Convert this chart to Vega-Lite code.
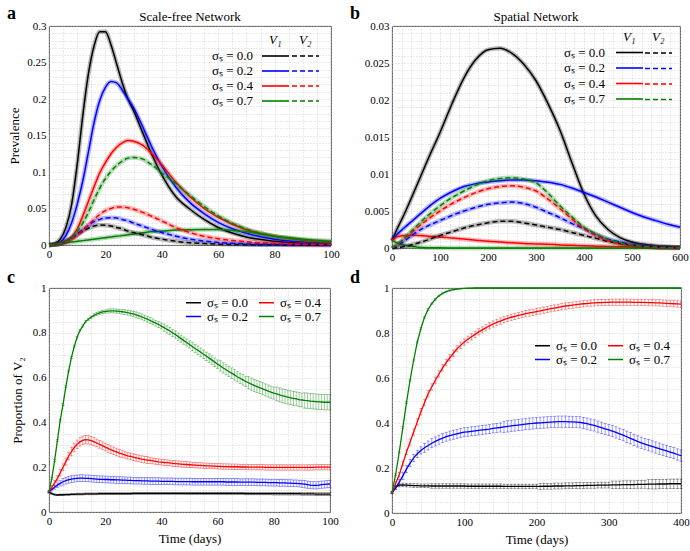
{
"$schema":"https://vega.github.io/schema/vega-lite/v6.json",
"padding":{"left":6,"top":4,"right":0,"bottom":2},
"config":{
 "font":"Liberation Serif",
 "view":{"stroke":"#3a3a3a","strokeWidth":0.9},
 "axis":{"grid":true,"gridColor":"#c4c4c4","gridDash":[1,2],"gridWidth":0.7,"domain":false,"ticks":false,"labelPadding":3,"labelFont":"Liberation Serif","labelFontSize":11,"labelColor":"#000","labelOverlap":false,"labelFlush":false,"titleFont":"Liberation Serif","titleFontSize":13,"titleFontWeight":"normal","titleColor":"#000"},
 "legend":{"labelFont":"Liberation Serif","labelFontSize":13,"labelColor":"#000","titleFont":"Liberation Serif","titleFontSize":13,"titleFontWeight":"normal","titleColor":"#000","padding":0},
 "title":{"font":"Liberation Serif","fontSize":18,"fontWeight":"bold","anchor":"start","frame":"group","dx":-42,"color":"#000"}
},
"datasets":{
"A":[
{"t":0,"s":"0.0","a":0,"b":0},{"t":2,"s":"0.0","a":0.002,"b":0.0005},{"t":4,"s":"0.0","a":0.008,"b":0.002},{"t":6,"s":"0.0","a":0.024,"b":0.005},{"t":8,"s":"0.0","a":0.055,"b":0.009},{"t":10,"s":"0.0","a":0.11,"b":0.014},{"t":12,"s":"0.0","a":0.178,"b":0.019},{"t":14,"s":"0.0","a":0.235,"b":0.023},{"t":16,"s":"0.0","a":0.273,"b":0.026},{"t":18,"s":"0.0","a":0.292,"b":0.0275},{"t":20,"s":"0.0","a":0.292,"b":0.0272},{"t":22,"s":"0.0","a":0.274,"b":0.026},{"t":24,"s":"0.0","a":0.248,"b":0.024},{"t":26,"s":"0.0","a":0.222,"b":0.022},{"t":28,"s":"0.0","a":0.2,"b":0.019},{"t":30,"s":"0.0","a":0.184,"b":0.017},{"t":33,"s":"0.0","a":0.156,"b":0.014},{"t":36,"s":"0.0","a":0.128,"b":0.011},{"t":40,"s":"0.0","a":0.096,"b":0.008},{"t":45,"s":"0.0","a":0.066,"b":0.005},{"t":50,"s":"0.0","a":0.049,"b":0.003},{"t":55,"s":"0.0","a":0.035,"b":0.002},{"t":60,"s":"0.0","a":0.024,"b":0.0012},{"t":70,"s":"0.0","a":0.011,"b":0.0005},{"t":80,"s":"0.0","a":0.005,"b":0.0002},{"t":90,"s":"0.0","a":0.0022,"b":0.0001},{"t":100,"s":"0.0","a":0.001,"b":0},
{"t":0,"s":"0.2","a":0,"b":0},{"t":2,"s":"0.2","a":0.001,"b":0.0005},{"t":4,"s":"0.2","a":0.004,"b":0.002},{"t":6,"s":"0.2","a":0.013,"b":0.005},{"t":8,"s":"0.2","a":0.03,"b":0.009},{"t":10,"s":"0.2","a":0.056,"b":0.015},{"t":12,"s":"0.2","a":0.088,"b":0.021},{"t":14,"s":"0.2","a":0.128,"b":0.027},{"t":16,"s":"0.2","a":0.168,"b":0.032},{"t":18,"s":"0.2","a":0.198,"b":0.035},{"t":20,"s":"0.2","a":0.216,"b":0.037},{"t":22,"s":"0.2","a":0.224,"b":0.0375},{"t":24,"s":"0.2","a":0.222,"b":0.037},{"t":26,"s":"0.2","a":0.212,"b":0.035},{"t":28,"s":"0.2","a":0.2,"b":0.033},{"t":30,"s":"0.2","a":0.188,"b":0.03},{"t":33,"s":"0.2","a":0.164,"b":0.026},{"t":36,"s":"0.2","a":0.138,"b":0.022},{"t":40,"s":"0.2","a":0.108,"b":0.017},{"t":45,"s":"0.2","a":0.079,"b":0.012},{"t":50,"s":"0.2","a":0.058,"b":0.008},{"t":55,"s":"0.2","a":0.043,"b":0.0055},{"t":60,"s":"0.2","a":0.031,"b":0.0035},{"t":70,"s":"0.2","a":0.016,"b":0.0015},{"t":80,"s":"0.2","a":0.008,"b":0.0006},{"t":90,"s":"0.2","a":0.004,"b":0.0003},{"t":100,"s":"0.2","a":0.002,"b":0.0001},
{"t":0,"s":"0.4","a":0,"b":0},{"t":2,"s":"0.4","a":0.0005,"b":0.0005},{"t":4,"s":"0.4","a":0.002,"b":0.002},{"t":6,"s":"0.4","a":0.005,"b":0.004},{"t":8,"s":"0.4","a":0.011,"b":0.008},{"t":10,"s":"0.4","a":0.022,"b":0.013},{"t":12,"s":"0.4","a":0.04,"b":0.02},{"t":14,"s":"0.4","a":0.06,"b":0.028},{"t":16,"s":"0.4","a":0.08,"b":0.035},{"t":18,"s":"0.4","a":0.099,"b":0.042},{"t":20,"s":"0.4","a":0.113,"b":0.047},{"t":22,"s":"0.4","a":0.125,"b":0.05},{"t":24,"s":"0.4","a":0.134,"b":0.052},{"t":26,"s":"0.4","a":0.14,"b":0.0522},{"t":28,"s":"0.4","a":0.143,"b":0.051},{"t":30,"s":"0.4","a":0.142,"b":0.049},{"t":33,"s":"0.4","a":0.137,"b":0.045},{"t":36,"s":"0.4","a":0.127,"b":0.04},{"t":40,"s":"0.4","a":0.11,"b":0.033},{"t":45,"s":"0.4","a":0.086,"b":0.024},{"t":50,"s":"0.4","a":0.066,"b":0.017},{"t":55,"s":"0.4","a":0.05,"b":0.012},{"t":60,"s":"0.4","a":0.038,"b":0.0085},{"t":70,"s":"0.4","a":0.021,"b":0.0045},{"t":80,"s":"0.4","a":0.012,"b":0.0022},{"t":90,"s":"0.4","a":0.0065,"b":0.0011},{"t":100,"s":"0.4","a":0.0035,"b":0.0006},
{"t":0,"s":"0.7","a":0,"b":0},{"t":2,"s":"0.7","a":0.001,"b":0.0005},{"t":4,"s":"0.7","a":0.002,"b":0.002},{"t":6,"s":"0.7","a":0.003,"b":0.005},{"t":8,"s":"0.7","a":0.004,"b":0.01},{"t":10,"s":"0.7","a":0.005,"b":0.018},{"t":12,"s":"0.7","a":0.006,"b":0.03},{"t":14,"s":"0.7","a":0.007,"b":0.045},{"t":16,"s":"0.7","a":0.008,"b":0.062},{"t":18,"s":"0.7","a":0.009,"b":0.078},{"t":20,"s":"0.7","a":0.01,"b":0.091},{"t":22,"s":"0.7","a":0.011,"b":0.101},{"t":24,"s":"0.7","a":0.012,"b":0.109},{"t":26,"s":"0.7","a":0.013,"b":0.115},{"t":28,"s":"0.7","a":0.014,"b":0.119},{"t":30,"s":"0.7","a":0.015,"b":0.12},{"t":33,"s":"0.7","a":0.0165,"b":0.118},{"t":36,"s":"0.7","a":0.018,"b":0.111},{"t":40,"s":"0.7","a":0.019,"b":0.099},{"t":45,"s":"0.7","a":0.0205,"b":0.084},{"t":50,"s":"0.7","a":0.021,"b":0.068},{"t":55,"s":"0.7","a":0.0212,"b":0.053},{"t":60,"s":"0.7","a":0.0212,"b":0.04},{"t":70,"s":"0.7","a":0.018,"b":0.022},{"t":80,"s":"0.7","a":0.012,"b":0.012},{"t":90,"s":"0.7","a":0.008,"b":0.007},{"t":100,"s":"0.7","a":0.005,"b":0.0045}
],
"B":[
{"t":0,"s":"0.0","a":0.001,"b":0},{"t":10,"s":"0.0","a":0.0025,"b":0.00005},{"t":25,"s":"0.0","a":0.0045,"b":0.0002},{"t":50,"s":"0.0","a":0.0082,"b":0.0006},{"t":75,"s":"0.0","a":0.012,"b":0.0011},{"t":100,"s":"0.0","a":0.0156,"b":0.0017},{"t":125,"s":"0.0","a":0.0195,"b":0.0022},{"t":150,"s":"0.0","a":0.023,"b":0.0027},{"t":175,"s":"0.0","a":0.0255,"b":0.0031},{"t":200,"s":"0.0","a":0.0268,"b":0.0034},{"t":225,"s":"0.0","a":0.027,"b":0.0036},{"t":250,"s":"0.0","a":0.0263,"b":0.0036},{"t":275,"s":"0.0","a":0.0248,"b":0.0034},{"t":300,"s":"0.0","a":0.0226,"b":0.0031},{"t":325,"s":"0.0","a":0.0195,"b":0.0028},{"t":350,"s":"0.0","a":0.0159,"b":0.0025},{"t":375,"s":"0.0","a":0.0115,"b":0.0021},{"t":400,"s":"0.0","a":0.0073,"b":0.0017},{"t":425,"s":"0.0","a":0.0043,"b":0.0013},{"t":450,"s":"0.0","a":0.0025,"b":0.0009},{"t":475,"s":"0.0","a":0.0014,"b":0.0006},{"t":500,"s":"0.0","a":0.0008,"b":0.0004},{"t":525,"s":"0.0","a":0.0005,"b":0.00025},{"t":550,"s":"0.0","a":0.0003,"b":0.00015},{"t":575,"s":"0.0","a":0.0002,"b":0.0001},{"t":600,"s":"0.0","a":0.0001,"b":0.00005},
{"t":0,"s":"0.2","a":0.001,"b":0},{"t":10,"s":"0.2","a":0.0018,"b":0.0003},{"t":25,"s":"0.2","a":0.0027,"b":0.0009},{"t":50,"s":"0.2","a":0.0041,"b":0.0021},{"t":75,"s":"0.2","a":0.0055,"b":0.003},{"t":100,"s":"0.2","a":0.0067,"b":0.0037},{"t":125,"s":"0.2","a":0.0076,"b":0.0044},{"t":150,"s":"0.2","a":0.0083,"b":0.005},{"t":175,"s":"0.2","a":0.0087,"b":0.0055},{"t":200,"s":"0.2","a":0.0089,"b":0.0059},{"t":225,"s":"0.2","a":0.0091,"b":0.0061},{"t":250,"s":"0.2","a":0.0092,"b":0.0062},{"t":275,"s":"0.2","a":0.0092,"b":0.006},{"t":300,"s":"0.2","a":0.0091,"b":0.0055},{"t":325,"s":"0.2","a":0.0089,"b":0.0048},{"t":350,"s":"0.2","a":0.0086,"b":0.0041},{"t":375,"s":"0.2","a":0.0081,"b":0.0033},{"t":400,"s":"0.2","a":0.0075,"b":0.0026},{"t":425,"s":"0.2","a":0.0069,"b":0.0018},{"t":450,"s":"0.2","a":0.0062,"b":0.0012},{"t":475,"s":"0.2","a":0.0055,"b":0.0008},{"t":500,"s":"0.2","a":0.0048,"b":0.00045},{"t":525,"s":"0.2","a":0.0042,"b":0.0003},{"t":550,"s":"0.2","a":0.0037,"b":0.00015},{"t":575,"s":"0.2","a":0.0032,"b":0.0001},{"t":600,"s":"0.2","a":0.0028,"b":0.00005},
{"t":0,"s":"0.4","a":0.001,"b":0},{"t":10,"s":"0.4","a":0.0015,"b":0.0004},{"t":25,"s":"0.4","a":0.0017,"b":0.0012},{"t":50,"s":"0.4","a":0.00172,"b":0.0026},{"t":75,"s":"0.4","a":0.0016,"b":0.0039},{"t":100,"s":"0.4","a":0.0015,"b":0.005},{"t":125,"s":"0.4","a":0.00135,"b":0.006},{"t":150,"s":"0.4","a":0.0012,"b":0.0068},{"t":175,"s":"0.4","a":0.00105,"b":0.0075},{"t":200,"s":"0.4","a":0.0009,"b":0.008},{"t":225,"s":"0.4","a":0.0008,"b":0.0083},{"t":250,"s":"0.4","a":0.0007,"b":0.0084},{"t":275,"s":"0.4","a":0.0006,"b":0.0082},{"t":300,"s":"0.4","a":0.00055,"b":0.0077},{"t":325,"s":"0.4","a":0.0005,"b":0.0066},{"t":350,"s":"0.4","a":0.00042,"b":0.0053},{"t":375,"s":"0.4","a":0.00036,"b":0.0039},{"t":400,"s":"0.4","a":0.0003,"b":0.0026},{"t":425,"s":"0.4","a":0.00025,"b":0.0017},{"t":450,"s":"0.4","a":0.0002,"b":0.001},{"t":475,"s":"0.4","a":0.00017,"b":0.0006},{"t":500,"s":"0.4","a":0.00015,"b":0.0003},{"t":525,"s":"0.4","a":0.00013,"b":0.0002},{"t":550,"s":"0.4","a":0.00012,"b":0.0001},{"t":575,"s":"0.4","a":0.0001,"b":0.00005},{"t":600,"s":"0.4","a":0.0001,"b":0.00003},
{"t":0,"s":"0.7","a":0.001,"b":0},{"t":10,"s":"0.7","a":0.0007,"b":0.0004},{"t":25,"s":"0.7","a":0.0004,"b":0.0013},{"t":50,"s":"0.7","a":0.00015,"b":0.0029},{"t":75,"s":"0.7","a":0.00005,"b":0.0044},{"t":100,"s":"0.7","a":0.00002,"b":0.0057},{"t":125,"s":"0.7","a":0.00001,"b":0.0068},{"t":150,"s":"0.7","a":0,"b":0.0077},{"t":175,"s":"0.7","a":0,"b":0.0085},{"t":200,"s":"0.7","a":0,"b":0.0091},{"t":225,"s":"0.7","a":0,"b":0.0094},{"t":250,"s":"0.7","a":0,"b":0.0095},{"t":275,"s":"0.7","a":0,"b":0.0093},{"t":300,"s":"0.7","a":0,"b":0.0088},{"t":325,"s":"0.7","a":0,"b":0.0074},{"t":350,"s":"0.7","a":0,"b":0.0057},{"t":375,"s":"0.7","a":0,"b":0.0042},{"t":400,"s":"0.7","a":0,"b":0.0028},{"t":425,"s":"0.7","a":0,"b":0.0019},{"t":450,"s":"0.7","a":0,"b":0.0012},{"t":475,"s":"0.7","a":0,"b":0.0007},{"t":500,"s":"0.7","a":0,"b":0.0004},{"t":525,"s":"0.7","a":0,"b":0.0002},{"t":550,"s":"0.7","a":0,"b":0.0001},{"t":575,"s":"0.7","a":0,"b":0.00005},{"t":600,"s":"0.7","a":0,"b":0.00003}
],
"C":[
{"t":0,"k":0.09,"ke":0.003,"b":0.09,"be":0.004,"r":0.09,"re":0.006,"g":0.09,"ge":0.004},
{"t":1,"k":0.082,"ke":0.003,"b":0.1,"be":0.006,"r":0.11,"re":0.008,"g":0.15,"ge":0.004},
{"t":2,"k":0.078,"ke":0.003,"b":0.11,"be":0.008,"r":0.13,"re":0.01,"g":0.23,"ge":0.004},
{"t":3,"k":0.076,"ke":0.003,"b":0.12,"be":0.01,"r":0.15,"re":0.012,"g":0.32,"ge":0.004},
{"t":4,"k":0.077,"ke":0.003,"b":0.128,"be":0.012,"r":0.175,"re":0.014,"g":0.41,"ge":0.004},
{"t":5,"k":0.077,"ke":0.003,"b":0.135,"be":0.015,"r":0.2,"re":0.015,"g":0.48,"ge":0.004},
{"t":6,"k":0.078,"ke":0.003,"b":0.14,"be":0.015,"r":0.225,"re":0.016,"g":0.56,"ge":0.004},
{"t":7,"k":0.078,"ke":0.003,"b":0.144,"be":0.015,"r":0.25,"re":0.017,"g":0.63,"ge":0.004},
{"t":8,"k":0.079,"ke":0.003,"b":0.147,"be":0.015,"r":0.27,"re":0.019,"g":0.69,"ge":0.004},
{"t":9,"k":0.079,"ke":0.003,"b":0.149,"be":0.015,"r":0.288,"re":0.019,"g":0.74,"ge":0.004},
{"t":10,"k":0.08,"ke":0.004,"b":0.15,"be":0.015,"r":0.302,"re":0.019,"g":0.78,"ge":0.004},
{"t":11,"k":0.08,"ke":0.004,"b":0.151,"be":0.015,"r":0.313,"re":0.019,"g":0.81,"ge":0.005},
{"t":12,"k":0.08,"ke":0.004,"b":0.151,"be":0.015,"r":0.32,"re":0.019,"g":0.83,"ge":0.005},
{"t":13,"k":0.081,"ke":0.004,"b":0.15,"be":0.015,"r":0.323,"re":0.019,"g":0.85,"ge":0.005},
{"t":14,"k":0.081,"ke":0.004,"b":0.15,"be":0.015,"r":0.322,"re":0.019,"g":0.86,"ge":0.005},
{"t":15,"k":0.081,"ke":0.004,"b":0.149,"be":0.015,"r":0.319,"re":0.019,"g":0.87,"ge":0.005},
{"t":16,"k":0.081,"ke":0.004,"b":0.148,"be":0.015,"r":0.314,"re":0.019,"g":0.878,"ge":0.007},
{"t":17,"k":0.081,"ke":0.004,"b":0.147,"be":0.015,"r":0.308,"re":0.017,"g":0.884,"ge":0.007},
{"t":18,"k":0.082,"ke":0.004,"b":0.146,"be":0.015,"r":0.302,"re":0.017,"g":0.889,"ge":0.007},
{"t":19,"k":0.082,"ke":0.004,"b":0.146,"be":0.015,"r":0.296,"re":0.017,"g":0.893,"ge":0.007},
{"t":20,"k":0.082,"ke":0.004,"b":0.145,"be":0.015,"r":0.29,"re":0.017,"g":0.895,"ge":0.007},
{"t":21,"k":0.082,"ke":0.004,"b":0.145,"be":0.015,"r":0.284,"re":0.017,"g":0.897,"ge":0.009},
{"t":22,"k":0.082,"ke":0.004,"b":0.144,"be":0.015,"r":0.278,"re":0.017,"g":0.898,"ge":0.009},
{"t":23,"k":0.082,"ke":0.004,"b":0.144,"be":0.015,"r":0.273,"re":0.017,"g":0.898,"ge":0.009},
{"t":24,"k":0.082,"ke":0.004,"b":0.143,"be":0.015,"r":0.268,"re":0.017,"g":0.897,"ge":0.009},
{"t":25,"k":0.082,"ke":0.004,"b":0.143,"be":0.015,"r":0.263,"re":0.017,"g":0.896,"ge":0.009},
{"t":26,"k":0.082,"ke":0.004,"b":0.142,"be":0.015,"r":0.259,"re":0.015,"g":0.894,"ge":0.011},
{"t":27,"k":0.082,"ke":0.004,"b":0.142,"be":0.015,"r":0.255,"re":0.015,"g":0.892,"ge":0.011},
{"t":28,"k":0.082,"ke":0.004,"b":0.141,"be":0.015,"r":0.251,"re":0.015,"g":0.89,"ge":0.011},
{"t":29,"k":0.082,"ke":0.004,"b":0.141,"be":0.015,"r":0.248,"re":0.015,"g":0.887,"ge":0.011},
{"t":30,"k":0.083,"ke":0.004,"b":0.14,"be":0.015,"r":0.245,"re":0.015,"g":0.884,"ge":0.011},
{"t":31,"k":0.083,"ke":0.004,"b":0.14,"be":0.015,"r":0.242,"re":0.015,"g":0.88,"ge":0.013},
{"t":32,"k":0.083,"ke":0.004,"b":0.14,"be":0.015,"r":0.239,"re":0.015,"g":0.876,"ge":0.013},
{"t":33,"k":0.083,"ke":0.004,"b":0.139,"be":0.015,"r":0.236,"re":0.015,"g":0.871,"ge":0.013},
{"t":34,"k":0.083,"ke":0.004,"b":0.139,"be":0.015,"r":0.234,"re":0.015,"g":0.866,"ge":0.013},
{"t":35,"k":0.083,"ke":0.004,"b":0.139,"be":0.015,"r":0.232,"re":0.015,"g":0.861,"ge":0.013},
{"t":36,"k":0.083,"ke":0.004,"b":0.138,"be":0.015,"r":0.23,"re":0.013,"g":0.855,"ge":0.013},
{"t":37,"k":0.083,"ke":0.004,"b":0.138,"be":0.015,"r":0.228,"re":0.013,"g":0.849,"ge":0.013},
{"t":38,"k":0.083,"ke":0.004,"b":0.138,"be":0.015,"r":0.226,"re":0.013,"g":0.843,"ge":0.013},
{"t":39,"k":0.083,"ke":0.004,"b":0.138,"be":0.015,"r":0.224,"re":0.013,"g":0.837,"ge":0.013},
{"t":40,"k":0.083,"ke":0.004,"b":0.137,"be":0.015,"r":0.223,"re":0.013,"g":0.83,"ge":0.013},
{"t":41,"k":0.083,"ke":0.004,"b":0.137,"be":0.015,"r":0.221,"re":0.013,"g":0.823,"ge":0.016},
{"t":42,"k":0.083,"ke":0.004,"b":0.137,"be":0.015,"r":0.22,"re":0.013,"g":0.815,"ge":0.016},
{"t":43,"k":0.083,"ke":0.004,"b":0.137,"be":0.015,"r":0.219,"re":0.013,"g":0.808,"ge":0.016},
{"t":44,"k":0.083,"ke":0.004,"b":0.137,"be":0.015,"r":0.217,"re":0.013,"g":0.8,"ge":0.016},
{"t":45,"k":0.083,"ke":0.004,"b":0.136,"be":0.015,"r":0.216,"re":0.013,"g":0.792,"ge":0.016},
{"t":46,"k":0.083,"ke":0.004,"b":0.136,"be":0.015,"r":0.215,"re":0.013,"g":0.783,"ge":0.016},
{"t":47,"k":0.083,"ke":0.004,"b":0.136,"be":0.015,"r":0.214,"re":0.013,"g":0.774,"ge":0.016},
{"t":48,"k":0.083,"ke":0.004,"b":0.136,"be":0.015,"r":0.213,"re":0.013,"g":0.765,"ge":0.016},
{"t":49,"k":0.083,"ke":0.004,"b":0.136,"be":0.015,"r":0.212,"re":0.013,"g":0.757,"ge":0.016},
{"t":50,"k":0.083,"ke":0.005,"b":0.136,"be":0.015,"r":0.211,"re":0.013,"g":0.748,"ge":0.016},
{"t":51,"k":0.083,"ke":0.005,"b":0.135,"be":0.015,"r":0.21,"re":0.012,"g":0.739,"ge":0.019},
{"t":52,"k":0.083,"ke":0.005,"b":0.135,"be":0.015,"r":0.209,"re":0.012,"g":0.73,"ge":0.019},
{"t":53,"k":0.083,"ke":0.005,"b":0.135,"be":0.015,"r":0.208,"re":0.012,"g":0.722,"ge":0.019},
{"t":54,"k":0.083,"ke":0.005,"b":0.135,"be":0.015,"r":0.208,"re":0.012,"g":0.713,"ge":0.019},
{"t":55,"k":0.083,"ke":0.005,"b":0.135,"be":0.015,"r":0.207,"re":0.012,"g":0.704,"ge":0.019},
{"t":56,"k":0.083,"ke":0.005,"b":0.135,"be":0.015,"r":0.206,"re":0.012,"g":0.695,"ge":0.019},
{"t":57,"k":0.083,"ke":0.005,"b":0.135,"be":0.015,"r":0.206,"re":0.012,"g":0.687,"ge":0.019},
{"t":58,"k":0.083,"ke":0.005,"b":0.135,"be":0.015,"r":0.205,"re":0.012,"g":0.678,"ge":0.019},
{"t":59,"k":0.083,"ke":0.005,"b":0.135,"be":0.015,"r":0.205,"re":0.012,"g":0.669,"ge":0.019},
{"t":60,"k":0.083,"ke":0.005,"b":0.135,"be":0.015,"r":0.204,"re":0.012,"g":0.66,"ge":0.019},
{"t":61,"k":0.083,"ke":0.005,"b":0.135,"be":0.015,"r":0.204,"re":0.012,"g":0.652,"ge":0.023},
{"t":62,"k":0.083,"ke":0.005,"b":0.135,"be":0.015,"r":0.203,"re":0.012,"g":0.643,"ge":0.023},
{"t":63,"k":0.083,"ke":0.005,"b":0.134,"be":0.015,"r":0.203,"re":0.012,"g":0.635,"ge":0.023},
{"t":64,"k":0.083,"ke":0.005,"b":0.134,"be":0.015,"r":0.203,"re":0.012,"g":0.627,"ge":0.023},
{"t":65,"k":0.083,"ke":0.005,"b":0.134,"be":0.015,"r":0.202,"re":0.012,"g":0.62,"ge":0.023},
{"t":66,"k":0.083,"ke":0.005,"b":0.134,"be":0.015,"r":0.202,"re":0.012,"g":0.612,"ge":0.023},
{"t":67,"k":0.083,"ke":0.005,"b":0.134,"be":0.015,"r":0.202,"re":0.012,"g":0.604,"ge":0.023},
{"t":68,"k":0.083,"ke":0.005,"b":0.133,"be":0.015,"r":0.201,"re":0.012,"g":0.597,"ge":0.023},
{"t":69,"k":0.083,"ke":0.005,"b":0.133,"be":0.015,"r":0.201,"re":0.012,"g":0.59,"ge":0.023},
{"t":70,"k":0.082,"ke":0.005,"b":0.133,"be":0.015,"r":0.201,"re":0.012,"g":0.583,"ge":0.023},
{"t":71,"k":0.082,"ke":0.005,"b":0.133,"be":0.015,"r":0.2,"re":0.012,"g":0.577,"ge":0.027},
{"t":72,"k":0.082,"ke":0.005,"b":0.133,"be":0.015,"r":0.2,"re":0.012,"g":0.571,"ge":0.027},
{"t":73,"k":0.082,"ke":0.005,"b":0.133,"be":0.015,"r":0.2,"re":0.012,"g":0.565,"ge":0.027},
{"t":74,"k":0.082,"ke":0.005,"b":0.132,"be":0.015,"r":0.2,"re":0.012,"g":0.56,"ge":0.027},
{"t":75,"k":0.082,"ke":0.005,"b":0.132,"be":0.015,"r":0.2,"re":0.012,"g":0.555,"ge":0.027},
{"t":76,"k":0.082,"ke":0.005,"b":0.132,"be":0.015,"r":0.2,"re":0.012,"g":0.55,"ge":0.027},
{"t":77,"k":0.082,"ke":0.005,"b":0.132,"be":0.015,"r":0.199,"re":0.012,"g":0.545,"ge":0.027},
{"t":78,"k":0.082,"ke":0.005,"b":0.131,"be":0.015,"r":0.199,"re":0.012,"g":0.54,"ge":0.027},
{"t":79,"k":0.082,"ke":0.005,"b":0.131,"be":0.015,"r":0.199,"re":0.012,"g":0.535,"ge":0.027},
{"t":80,"k":0.082,"ke":0.006,"b":0.131,"be":0.015,"r":0.199,"re":0.012,"g":0.531,"ge":0.027},
{"t":81,"k":0.082,"ke":0.006,"b":0.131,"be":0.015,"r":0.199,"re":0.012,"g":0.527,"ge":0.031},
{"t":82,"k":0.082,"ke":0.006,"b":0.13,"be":0.015,"r":0.199,"re":0.012,"g":0.523,"ge":0.031},
{"t":83,"k":0.082,"ke":0.006,"b":0.13,"be":0.015,"r":0.199,"re":0.012,"g":0.519,"ge":0.031},
{"t":84,"k":0.082,"ke":0.006,"b":0.13,"be":0.015,"r":0.199,"re":0.012,"g":0.516,"ge":0.031},
{"t":85,"k":0.082,"ke":0.006,"b":0.129,"be":0.015,"r":0.199,"re":0.012,"g":0.513,"ge":0.031},
{"t":86,"k":0.082,"ke":0.006,"b":0.129,"be":0.015,"r":0.199,"re":0.012,"g":0.51,"ge":0.031},
{"t":87,"k":0.082,"ke":0.006,"b":0.128,"be":0.015,"r":0.199,"re":0.012,"g":0.507,"ge":0.031},
{"t":88,"k":0.082,"ke":0.006,"b":0.128,"be":0.015,"r":0.199,"re":0.012,"g":0.505,"ge":0.031},
{"t":89,"k":0.082,"ke":0.006,"b":0.127,"be":0.015,"r":0.199,"re":0.012,"g":0.502,"ge":0.031},
{"t":90,"k":0.081,"ke":0.006,"b":0.126,"be":0.016,"r":0.199,"re":0.012,"g":0.5,"ge":0.031},
{"t":91,"k":0.081,"ke":0.006,"b":0.124,"be":0.016,"r":0.199,"re":0.012,"g":0.498,"ge":0.034},
{"t":92,"k":0.081,"ke":0.006,"b":0.122,"be":0.016,"r":0.199,"re":0.012,"g":0.497,"ge":0.034},
{"t":93,"k":0.081,"ke":0.006,"b":0.12,"be":0.016,"r":0.199,"re":0.012,"g":0.495,"ge":0.034},
{"t":94,"k":0.081,"ke":0.006,"b":0.119,"be":0.016,"r":0.199,"re":0.012,"g":0.494,"ge":0.034},
{"t":95,"k":0.08,"ke":0.006,"b":0.119,"be":0.016,"r":0.2,"re":0.012,"g":0.493,"ge":0.034},
{"t":96,"k":0.08,"ke":0.006,"b":0.12,"be":0.016,"r":0.2,"re":0.012,"g":0.492,"ge":0.034},
{"t":97,"k":0.08,"ke":0.006,"b":0.122,"be":0.016,"r":0.2,"re":0.012,"g":0.491,"ge":0.034},
{"t":98,"k":0.08,"ke":0.006,"b":0.123,"be":0.016,"r":0.2,"re":0.012,"g":0.49,"ge":0.034},
{"t":99,"k":0.08,"ke":0.006,"b":0.124,"be":0.016,"r":0.2,"re":0.012,"g":0.49,"ge":0.034},
{"t":100,"k":0.08,"ke":0.006,"b":0.125,"be":0.016,"r":0.2,"re":0.012,"g":0.49,"ge":0.034}
],
"D":[
{"t":0,"k":0.09,"ke":0.003,"b":0.09,"be":0.004,"r":0.09,"re":0.005,"g":0.09,"ge":0.003},
{"t":5,"k":0.115,"ke":0.008,"b":0.112,"be":0.008,"r":0.13,"re":0.01,"g":0.17,"ge":0.004},
{"t":10,"k":0.124,"ke":0.008,"b":0.137,"be":0.012,"r":0.17,"re":0.01,"g":0.27,"ge":0.004},
{"t":15,"k":0.125,"ke":0.008,"b":0.165,"be":0.016,"r":0.22,"re":0.01,"g":0.38,"ge":0.004},
{"t":20,"k":0.124,"ke":0.008,"b":0.195,"be":0.016,"r":0.27,"re":0.01,"g":0.49,"ge":0.004},
{"t":25,"k":0.123,"ke":0.008,"b":0.222,"be":0.016,"r":0.315,"re":0.014,"g":0.59,"ge":0.004},
{"t":30,"k":0.122,"ke":0.008,"b":0.245,"be":0.016,"r":0.36,"re":0.014,"g":0.68,"ge":0.004},
{"t":35,"k":0.122,"ke":0.008,"b":0.263,"be":0.016,"r":0.405,"re":0.014,"g":0.76,"ge":0.004},
{"t":40,"k":0.121,"ke":0.008,"b":0.278,"be":0.016,"r":0.45,"re":0.014,"g":0.82,"ge":0.004},
{"t":45,"k":0.121,"ke":0.008,"b":0.29,"be":0.02,"r":0.49,"re":0.014,"g":0.87,"ge":0.004},
{"t":50,"k":0.121,"ke":0.008,"b":0.3,"be":0.02,"r":0.53,"re":0.014,"g":0.905,"ge":0.004},
{"t":55,"k":0.12,"ke":0.01,"b":0.31,"be":0.02,"r":0.56,"re":0.014,"g":0.93,"ge":0.004},
{"t":60,"k":0.12,"ke":0.01,"b":0.318,"be":0.02,"r":0.59,"re":0.014,"g":0.95,"ge":0.004},
{"t":65,"k":0.12,"ke":0.01,"b":0.326,"be":0.02,"r":0.618,"re":0.014,"g":0.965,"ge":0.003},
{"t":70,"k":0.12,"ke":0.01,"b":0.333,"be":0.02,"r":0.645,"re":0.014,"g":0.976,"ge":0.003},
{"t":75,"k":0.12,"ke":0.01,"b":0.339,"be":0.02,"r":0.668,"re":0.014,"g":0.984,"ge":0.003},
{"t":80,"k":0.12,"ke":0.01,"b":0.344,"be":0.02,"r":0.69,"re":0.014,"g":0.989,"ge":0.003},
{"t":85,"k":0.12,"ke":0.01,"b":0.348,"be":0.02,"r":0.71,"re":0.014,"g":0.993,"ge":0.002},
{"t":90,"k":0.12,"ke":0.01,"b":0.352,"be":0.02,"r":0.73,"re":0.014,"g":0.995,"ge":0.002},
{"t":95,"k":0.12,"ke":0.01,"b":0.356,"be":0.02,"r":0.745,"re":0.014,"g":0.997,"ge":0.002},
{"t":100,"k":0.12,"ke":0.01,"b":0.359,"be":0.02,"r":0.76,"re":0.014,"g":0.998,"ge":0.001},
{"t":105,"k":0.119,"ke":0.01,"b":0.361,"be":0.02,"r":0.772,"re":0.014,"g":0.999,"ge":0.001},
{"t":110,"k":0.119,"ke":0.01,"b":0.363,"be":0.02,"r":0.783,"re":0.014,"g":0.999,"ge":0.001},
{"t":115,"k":0.119,"ke":0.01,"b":0.365,"be":0.02,"r":0.794,"re":0.014,"g":1,"ge":0},
{"t":120,"k":0.119,"ke":0.01,"b":0.367,"be":0.02,"r":0.805,"re":0.014,"g":1,"ge":0},
{"t":125,"k":0.119,"ke":0.01,"b":0.369,"be":0.02,"r":0.814,"re":0.014,"g":1,"ge":0},
{"t":130,"k":0.119,"ke":0.01,"b":0.371,"be":0.02,"r":0.823,"re":0.014,"g":1,"ge":0},
{"t":135,"k":0.119,"ke":0.01,"b":0.373,"be":0.02,"r":0.832,"re":0.014,"g":1,"ge":0},
{"t":140,"k":0.119,"ke":0.01,"b":0.376,"be":0.02,"r":0.84,"re":0.014,"g":1,"ge":0},
{"t":145,"k":0.119,"ke":0.01,"b":0.378,"be":0.02,"r":0.847,"re":0.014,"g":1,"ge":0},
{"t":150,"k":0.119,"ke":0.01,"b":0.38,"be":0.02,"r":0.853,"re":0.014,"g":1,"ge":0},
{"t":155,"k":0.118,"ke":0.01,"b":0.383,"be":0.025,"r":0.859,"re":0.014,"g":1,"ge":0},
{"t":160,"k":0.118,"ke":0.01,"b":0.385,"be":0.025,"r":0.865,"re":0.014,"g":1,"ge":0},
{"t":165,"k":0.118,"ke":0.01,"b":0.387,"be":0.025,"r":0.87,"re":0.014,"g":1,"ge":0},
{"t":170,"k":0.118,"ke":0.01,"b":0.389,"be":0.025,"r":0.874,"re":0.014,"g":1,"ge":0},
{"t":175,"k":0.118,"ke":0.01,"b":0.391,"be":0.025,"r":0.878,"re":0.014,"g":1,"ge":0},
{"t":180,"k":0.118,"ke":0.01,"b":0.393,"be":0.025,"r":0.882,"re":0.014,"g":1,"ge":0},
{"t":185,"k":0.118,"ke":0.01,"b":0.395,"be":0.025,"r":0.886,"re":0.014,"g":1,"ge":0},
{"t":190,"k":0.118,"ke":0.01,"b":0.397,"be":0.025,"r":0.889,"re":0.014,"g":1,"ge":0},
{"t":195,"k":0.118,"ke":0.01,"b":0.398,"be":0.025,"r":0.892,"re":0.014,"g":1,"ge":0},
{"t":200,"k":0.118,"ke":0.01,"b":0.4,"be":0.025,"r":0.895,"re":0.014,"g":1,"ge":0},
{"t":205,"k":0.118,"ke":0.013,"b":0.401,"be":0.025,"r":0.898,"re":0.014,"g":1,"ge":0},
{"t":210,"k":0.119,"ke":0.013,"b":0.402,"be":0.025,"r":0.902,"re":0.014,"g":1,"ge":0},
{"t":215,"k":0.119,"ke":0.013,"b":0.403,"be":0.025,"r":0.905,"re":0.014,"g":1,"ge":0},
{"t":220,"k":0.119,"ke":0.013,"b":0.404,"be":0.025,"r":0.908,"re":0.014,"g":1,"ge":0},
{"t":225,"k":0.12,"ke":0.013,"b":0.405,"be":0.025,"r":0.911,"re":0.014,"g":1,"ge":0},
{"t":230,"k":0.12,"ke":0.013,"b":0.406,"be":0.025,"r":0.914,"re":0.014,"g":1,"ge":0},
{"t":235,"k":0.12,"ke":0.013,"b":0.406,"be":0.025,"r":0.917,"re":0.014,"g":1,"ge":0},
{"t":240,"k":0.121,"ke":0.013,"b":0.406,"be":0.025,"r":0.92,"re":0.014,"g":1,"ge":0},
{"t":245,"k":0.121,"ke":0.013,"b":0.405,"be":0.025,"r":0.922,"re":0.014,"g":1,"ge":0},
{"t":250,"k":0.121,"ke":0.013,"b":0.405,"be":0.025,"r":0.924,"re":0.014,"g":1,"ge":0},
{"t":255,"k":0.122,"ke":0.013,"b":0.404,"be":0.025,"r":0.926,"re":0.014,"g":1,"ge":0},
{"t":260,"k":0.122,"ke":0.013,"b":0.403,"be":0.025,"r":0.928,"re":0.014,"g":1,"ge":0},
{"t":265,"k":0.122,"ke":0.013,"b":0.4,"be":0.025,"r":0.93,"re":0.014,"g":1,"ge":0},
{"t":270,"k":0.123,"ke":0.013,"b":0.397,"be":0.025,"r":0.931,"re":0.014,"g":1,"ge":0},
{"t":275,"k":0.123,"ke":0.013,"b":0.393,"be":0.025,"r":0.933,"re":0.014,"g":1,"ge":0},
{"t":280,"k":0.123,"ke":0.013,"b":0.389,"be":0.025,"r":0.934,"re":0.014,"g":1,"ge":0},
{"t":285,"k":0.124,"ke":0.013,"b":0.384,"be":0.025,"r":0.935,"re":0.014,"g":1,"ge":0},
{"t":290,"k":0.124,"ke":0.013,"b":0.379,"be":0.025,"r":0.935,"re":0.014,"g":1,"ge":0},
{"t":295,"k":0.124,"ke":0.013,"b":0.374,"be":0.025,"r":0.936,"re":0.014,"g":1,"ge":0},
{"t":300,"k":0.124,"ke":0.013,"b":0.369,"be":0.025,"r":0.936,"re":0.014,"g":1,"ge":0},
{"t":305,"k":0.125,"ke":0.017,"b":0.364,"be":0.025,"r":0.937,"re":0.014,"g":1,"ge":0},
{"t":310,"k":0.125,"ke":0.017,"b":0.358,"be":0.025,"r":0.937,"re":0.014,"g":1,"ge":0},
{"t":315,"k":0.125,"ke":0.017,"b":0.352,"be":0.025,"r":0.937,"re":0.014,"g":1,"ge":0},
{"t":320,"k":0.126,"ke":0.017,"b":0.346,"be":0.025,"r":0.937,"re":0.014,"g":1,"ge":0},
{"t":325,"k":0.126,"ke":0.017,"b":0.339,"be":0.025,"r":0.937,"re":0.014,"g":1,"ge":0},
{"t":330,"k":0.126,"ke":0.017,"b":0.332,"be":0.025,"r":0.937,"re":0.014,"g":1,"ge":0},
{"t":335,"k":0.126,"ke":0.017,"b":0.325,"be":0.025,"r":0.936,"re":0.014,"g":1,"ge":0},
{"t":340,"k":0.127,"ke":0.017,"b":0.318,"be":0.025,"r":0.936,"re":0.014,"g":1,"ge":0},
{"t":345,"k":0.127,"ke":0.017,"b":0.312,"be":0.025,"r":0.936,"re":0.014,"g":1,"ge":0},
{"t":350,"k":0.127,"ke":0.017,"b":0.306,"be":0.025,"r":0.936,"re":0.014,"g":1,"ge":0},
{"t":355,"k":0.128,"ke":0.021,"b":0.301,"be":0.025,"r":0.935,"re":0.014,"g":1,"ge":0},
{"t":360,"k":0.128,"ke":0.021,"b":0.296,"be":0.025,"r":0.935,"re":0.014,"g":1,"ge":0},
{"t":365,"k":0.128,"ke":0.021,"b":0.291,"be":0.025,"r":0.934,"re":0.014,"g":1,"ge":0},
{"t":370,"k":0.129,"ke":0.021,"b":0.286,"be":0.025,"r":0.934,"re":0.014,"g":1,"ge":0},
{"t":375,"k":0.129,"ke":0.021,"b":0.281,"be":0.025,"r":0.933,"re":0.014,"g":1,"ge":0},
{"t":380,"k":0.129,"ke":0.021,"b":0.276,"be":0.025,"r":0.932,"re":0.014,"g":1,"ge":0},
{"t":385,"k":0.13,"ke":0.021,"b":0.271,"be":0.025,"r":0.931,"re":0.014,"g":1,"ge":0},
{"t":390,"k":0.13,"ke":0.021,"b":0.266,"be":0.025,"r":0.93,"re":0.014,"g":1,"ge":0},
{"t":395,"k":0.13,"ke":0.021,"b":0.26,"be":0.025,"r":0.929,"re":0.014,"g":1,"ge":0},
{"t":400,"k":0.13,"ke":0.021,"b":0.255,"be":0.025,"r":0.928,"re":0.014,"g":1,"ge":0}
]
},
"columns":2,
"spacing":{"row":40,"column":61},
"bounds":"flush",
"align":"none",
"resolve":{"scale":{"stroke":"independent","color":"independent"},"legend":{"stroke":"independent","color":"independent"}},
"concat":[
{
 "width":282,"height":219,
 "title":{"text":"a","dy":16},
 "data":{"name":"A"},
 "transform":[{"fold":["a","b"],"as":["v","val"]}],
 "encoding":{
  "x":{"field":"t","type":"quantitative","scale":{"domain":[0,100],"nice":false},"axis":{"values":[0,5,10,15,20,25,30,35,40,45,50,55,60,65,70,75,80,85,90,95,100],"labelExpr":"datum.value % 20 == 0 ? datum.label : ''","title":null}},
  "y":{"field":"val","type":"quantitative","scale":{"domain":[0,0.3],"nice":false},"axis":{"values":[0,0.01,0.02,0.03,0.04,0.05,0.06,0.07,0.08,0.09,0.1,0.11,0.12,0.13,0.14,0.15,0.16,0.17,0.18,0.19,0.2,0.21,0.22,0.23,0.24,0.25,0.26,0.27,0.28,0.29,0.3],"format":"~g","labelExpr":"round(datum.value*1000) % 50 == 0 ? datum.label : ''","title":"Prevalence","titlePadding":5}}
 },
 "layer":[
  {"transform":[{"filter":"datum.v == 'a'"}],"mark":{"type":"line","strokeWidth":4.5,"opacity":0.28,"interpolate":"monotone"},
   "encoding":{"stroke":{"field":"s","type":"nominal","scale":{"domain":["0.0","0.2","0.4","0.7"],"range":["#000000","#0000ff","#ff0000","#008000"]},"legend":{"title":"  V₁","orient":"none","legendX":220,"legendY":8,"direction":"vertical","symbolType":"M-3,0H3","symbolSize":81,"symbolStrokeWidth":1.6,"symbolOpacity":1,"labelAlign":"right","labelOffset":-29,"labelExpr":"'σₛ = ' + datum.label","titleFontStyle":"italic","titleAnchor":"start","titlePadding":2.5,"rowPadding":1}}}},
  {"transform":[{"filter":"datum.v == 'a'"}],"mark":{"type":"line","strokeWidth":1.5,"interpolate":"monotone"},
   "encoding":{"stroke":{"field":"s","type":"nominal","scale":{"domain":["0.0","0.2","0.4","0.7"],"range":["#000000","#0000ff","#ff0000","#008000"]},"legend":{"title":"  V₁","orient":"none","legendX":220,"legendY":8,"direction":"vertical","symbolType":"M-3,0H3","symbolSize":81,"symbolStrokeWidth":1.6,"symbolOpacity":1,"labelAlign":"right","labelOffset":-29,"labelExpr":"'σₛ = ' + datum.label","titleFontStyle":"italic","titleAnchor":"start","titlePadding":2.5,"rowPadding":1}}}},
  {"transform":[{"filter":"datum.v == 'b'"}],"mark":{"type":"line","strokeWidth":4.5,"opacity":0.28,"interpolate":"monotone"},
   "encoding":{"color":{"field":"s","type":"nominal","scale":{"domain":["0.0","0.2","0.4","0.7"],"range":["#000000","#0000ff","#ff0000","#008000"]},"legend":{"title":"  V₂","orient":"top-right","offset":8,"direction":"vertical","symbolType":"M-3,0H3","symbolSize":81,"symbolStrokeWidth":1.6,"symbolOpacity":1,"symbolDash":[5,3],"labelExpr":"''","titleFontStyle":"italic","titleAnchor":"start","titlePadding":2.5,"rowPadding":1}}}},
  {"transform":[{"filter":"datum.v == 'b'"}],"mark":{"type":"line","strokeWidth":1.5,"strokeDash":[5,3],"interpolate":"monotone"},
   "encoding":{"color":{"field":"s","type":"nominal","scale":{"domain":["0.0","0.2","0.4","0.7"],"range":["#000000","#0000ff","#ff0000","#008000"]},"legend":{"title":"  V₂","orient":"top-right","offset":8,"direction":"vertical","symbolType":"M-3,0H3","symbolSize":81,"symbolStrokeWidth":1.6,"symbolOpacity":1,"symbolDash":[5,3],"labelExpr":"''","titleFontStyle":"italic","titleAnchor":"start","titlePadding":2.5,"rowPadding":1}}}},
  {"transform":[{"filter":"datum.t == 50 && datum.s == '0.0' && datum.v == 'a'"}],"mark":{"type":"text","text":"Scale-free Network","fontSize":13,"align":"center","baseline":"alphabetic","dy":-5},
   "encoding":{"y":{"datum":0.3,"type":"quantitative"}}}
 ]
},
{
 "width":288,"height":222,
 "title":{"text":"b","dy":16},
 "data":{"name":"B"},
 "transform":[{"fold":["a","b"],"as":["v","val"]}],
 "encoding":{
  "x":{"field":"t","type":"quantitative","scale":{"domain":[0,600],"nice":false},"axis":{"values":[0,20,40,60,80,100,120,140,160,180,200,220,240,260,280,300,320,340,360,380,400,420,440,460,480,500,520,540,560,580,600],"labelExpr":"datum.value % 100 == 0 ? datum.label : ''","title":null}},
  "y":{"field":"val","type":"quantitative","scale":{"domain":[0,0.03],"nice":false},"axis":{"values":[0,0.001,0.002,0.003,0.004,0.005,0.006,0.007,0.008,0.009,0.01,0.011,0.012,0.013,0.014,0.015,0.016,0.017,0.018,0.019,0.02,0.021,0.022,0.023,0.024,0.025,0.026,0.027,0.028,0.029,0.03],"format":"~g","labelExpr":"round(datum.value*10000) % 50 == 0 ? datum.label : ''","title":null}}
 },
 "layer":[
  {"transform":[{"filter":"datum.v == 'a'"}],"mark":{"type":"line","strokeWidth":4.5,"opacity":0.28,"interpolate":"monotone"},
   "encoding":{"stroke":{"field":"s","type":"nominal","scale":{"domain":["0.0","0.2","0.4","0.7"],"range":["#000000","#0000ff","#ff0000","#008000"]},"legend":{"title":"  V₁","orient":"none","legendX":231,"legendY":4.5,"direction":"vertical","symbolType":"M-3,0H3","symbolSize":81,"symbolStrokeWidth":1.6,"symbolOpacity":1,"labelAlign":"right","labelOffset":-31,"labelExpr":"'σₛ = ' + datum.label","titleFontStyle":"italic","titleAnchor":"start","titlePadding":2.5,"rowPadding":1.5}}}},
  {"transform":[{"filter":"datum.v == 'a'"}],"mark":{"type":"line","strokeWidth":1.5,"interpolate":"monotone"},
   "encoding":{"stroke":{"field":"s","type":"nominal","scale":{"domain":["0.0","0.2","0.4","0.7"],"range":["#000000","#0000ff","#ff0000","#008000"]},"legend":{"title":"  V₁","orient":"none","legendX":231,"legendY":4.5,"direction":"vertical","symbolType":"M-3,0H3","symbolSize":81,"symbolStrokeWidth":1.6,"symbolOpacity":1,"labelAlign":"right","labelOffset":-31,"labelExpr":"'σₛ = ' + datum.label","titleFontStyle":"italic","titleAnchor":"start","titlePadding":2.5,"rowPadding":1.5}}}},
  {"transform":[{"filter":"datum.v == 'b'"}],"mark":{"type":"line","strokeWidth":4.5,"opacity":0.28,"interpolate":"monotone"},
   "encoding":{"color":{"field":"s","type":"nominal","scale":{"domain":["0.0","0.2","0.4","0.7"],"range":["#000000","#0000ff","#ff0000","#008000"]},"legend":{"title":"  V₂","orient":"top-right","offset":4.5,"direction":"vertical","symbolType":"M-3,0H3","symbolSize":81,"symbolStrokeWidth":1.6,"symbolOpacity":1,"symbolDash":[5,3],"labelExpr":"''","titleFontStyle":"italic","titleAnchor":"start","titlePadding":2.5,"rowPadding":1.5}}}},
  {"transform":[{"filter":"datum.v == 'b'"}],"mark":{"type":"line","strokeWidth":1.5,"strokeDash":[5,3],"interpolate":"monotone"},
   "encoding":{"color":{"field":"s","type":"nominal","scale":{"domain":["0.0","0.2","0.4","0.7"],"range":["#000000","#0000ff","#ff0000","#008000"]},"legend":{"title":"  V₂","orient":"top-right","offset":4.5,"direction":"vertical","symbolType":"M-3,0H3","symbolSize":81,"symbolStrokeWidth":1.6,"symbolOpacity":1,"symbolDash":[5,3],"labelExpr":"''","titleFontStyle":"italic","titleAnchor":"start","titlePadding":2.5,"rowPadding":1.5}}}},
  {"transform":[{"filter":"datum.t == 300 && datum.s == '0.0' && datum.v == 'a'"}],"mark":{"type":"text","text":"Spatial Network","fontSize":13,"align":"center","baseline":"alphabetic","dy":-5},
   "encoding":{"y":{"datum":0.03,"type":"quantitative"}}}
 ]
},
{
 "width":281,"height":224,
 "title":{"text":"c","dy":9},
 "data":{"name":"C"},
 "encoding":{"x":{"field":"t","type":"quantitative","scale":{"domain":[0,100],"nice":false},"axis":{"values":[0,5,10,15,20,25,30,35,40,45,50,55,60,65,70,75,80,85,90,95,100],"labelExpr":"datum.value % 20 == 0 ? datum.label : ''","title":"Time (days)","titlePadding":6}}},
 "layer":[
  {"mark":{"type":"errorbar","ticks":{"size":3},"thickness":0.7,"opacity":0.55},"encoding":{"y":{"field":"k","type":"quantitative","scale":{"domain":[0,1],"nice":false},"axis":{"values":[0,0.05,0.1,0.15,0.2,0.25,0.3,0.35,0.4,0.45,0.5,0.55,0.6,0.65,0.7,0.75,0.8,0.85,0.9,0.95,1],"format":"~g","labelExpr":"round(datum.value*100) % 20 == 0 ? datum.label : ''","title":"Proportion of V₂","titlePadding":8}},"yError":{"field":"ke"},"color":{"datum":"ek","type":"nominal","scale":{"domain":["ek","er","eb","eg"],"range":["#000000","#ff0000","#0000ff","#008000"]},"legend":null}}},
  {"mark":{"type":"errorbar","ticks":{"size":3},"thickness":0.7,"opacity":0.55},"encoding":{"y":{"field":"b","type":"quantitative","scale":{"domain":[0,1],"nice":false},"axis":{"values":[0,0.05,0.1,0.15,0.2,0.25,0.3,0.35,0.4,0.45,0.5,0.55,0.6,0.65,0.7,0.75,0.8,0.85,0.9,0.95,1],"format":"~g","labelExpr":"round(datum.value*100) % 20 == 0 ? datum.label : ''","title":"Proportion of V₂","titlePadding":8}},"yError":{"field":"be"},"color":{"datum":"eb","type":"nominal","scale":{"domain":["ek","er","eb","eg"],"range":["#000000","#ff0000","#0000ff","#008000"]},"legend":null}}},
  {"mark":{"type":"errorbar","ticks":{"size":3},"thickness":0.7,"opacity":0.55},"encoding":{"y":{"field":"r","type":"quantitative","scale":{"domain":[0,1],"nice":false},"axis":{"values":[0,0.05,0.1,0.15,0.2,0.25,0.3,0.35,0.4,0.45,0.5,0.55,0.6,0.65,0.7,0.75,0.8,0.85,0.9,0.95,1],"format":"~g","labelExpr":"round(datum.value*100) % 20 == 0 ? datum.label : ''","title":"Proportion of V₂","titlePadding":8}},"yError":{"field":"re"},"color":{"datum":"er","type":"nominal","scale":{"domain":["ek","er","eb","eg"],"range":["#000000","#ff0000","#0000ff","#008000"]},"legend":null}}},
  {"mark":{"type":"errorbar","ticks":{"size":3},"thickness":0.7,"opacity":0.55},"encoding":{"y":{"field":"g","type":"quantitative","scale":{"domain":[0,1],"nice":false},"axis":{"values":[0,0.05,0.1,0.15,0.2,0.25,0.3,0.35,0.4,0.45,0.5,0.55,0.6,0.65,0.7,0.75,0.8,0.85,0.9,0.95,1],"format":"~g","labelExpr":"round(datum.value*100) % 20 == 0 ? datum.label : ''","title":"Proportion of V₂","titlePadding":8}},"yError":{"field":"ge"},"color":{"datum":"eg","type":"nominal","scale":{"domain":["ek","er","eb","eg"],"range":["#000000","#ff0000","#0000ff","#008000"]},"legend":null}}},
  {"transform":[{"fold":["k","b","r","g"],"as":["s","v"]}],"mark":{"type":"line","strokeWidth":1.3},"encoding":{"y":{"field":"v","type":"quantitative","scale":{"domain":[0,1],"nice":false},"axis":{"values":[0,0.05,0.1,0.15,0.2,0.25,0.3,0.35,0.4,0.45,0.5,0.55,0.6,0.65,0.7,0.75,0.8,0.85,0.9,0.95,1],"format":"~g","labelExpr":"round(datum.value*100) % 20 == 0 ? datum.label : ''","title":"Proportion of V₂","titlePadding":8}},"stroke":{"field":"s","type":"nominal","scale":{"domain":["k","b","r","g"],"range":["#000000","#0000ff","#ff0000","#008000"]},"legend":{"orient":"none","legendX":138,"legendY":8,"columns":2,"columnPadding":7,"rowPadding":-1,"symbolType":"M-2,0H2","symbolSize":56,"symbolStrokeWidth":1.5,"symbolOpacity":1,"labelOffset":7,"labelExpr":"'σₛ = ' + (datum.label == 'k' ? '0.0' : datum.label == 'b' ? '0.2' : datum.label == 'r' ? '0.4' : '0.7')","title":null}}}}
 ]
},
{
 "width":289,"height":225,
 "title":{"text":"d","dy":9},
 "data":{"name":"D"},
 "encoding":{"x":{"field":"t","type":"quantitative","scale":{"domain":[0,400],"nice":false},"axis":{"values":[0,20,40,60,80,100,120,140,160,180,200,220,240,260,280,300,320,340,360,380,400],"labelExpr":"datum.value % 100 == 0 ? datum.label : ''","title":"Time (days)","titlePadding":6}}},
 "layer":[
  {"mark":{"type":"errorbar","ticks":{"size":3},"thickness":0.7,"opacity":0.55},"encoding":{"y":{"field":"k","type":"quantitative","scale":{"domain":[0,1],"nice":false},"axis":{"values":[0,0.05,0.1,0.15,0.2,0.25,0.3,0.35,0.4,0.45,0.5,0.55,0.6,0.65,0.7,0.75,0.8,0.85,0.9,0.95,1],"format":"~g","labelExpr":"round(datum.value*100) % 20 == 0 ? datum.label : ''","title":null}},"yError":{"field":"ke"},"color":{"datum":"ek","type":"nominal","scale":{"domain":["ek","er","eb","eg"],"range":["#000000","#ff0000","#0000ff","#008000"]},"legend":null}}},
  {"mark":{"type":"errorbar","ticks":{"size":3},"thickness":0.7,"opacity":0.55},"encoding":{"y":{"field":"b","type":"quantitative","scale":{"domain":[0,1],"nice":false},"axis":{"values":[0,0.05,0.1,0.15,0.2,0.25,0.3,0.35,0.4,0.45,0.5,0.55,0.6,0.65,0.7,0.75,0.8,0.85,0.9,0.95,1],"format":"~g","labelExpr":"round(datum.value*100) % 20 == 0 ? datum.label : ''","title":null}},"yError":{"field":"be"},"color":{"datum":"eb","type":"nominal","scale":{"domain":["ek","er","eb","eg"],"range":["#000000","#ff0000","#0000ff","#008000"]},"legend":null}}},
  {"mark":{"type":"errorbar","ticks":{"size":3},"thickness":0.7,"opacity":0.55},"encoding":{"y":{"field":"r","type":"quantitative","scale":{"domain":[0,1],"nice":false},"axis":{"values":[0,0.05,0.1,0.15,0.2,0.25,0.3,0.35,0.4,0.45,0.5,0.55,0.6,0.65,0.7,0.75,0.8,0.85,0.9,0.95,1],"format":"~g","labelExpr":"round(datum.value*100) % 20 == 0 ? datum.label : ''","title":null}},"yError":{"field":"re"},"color":{"datum":"er","type":"nominal","scale":{"domain":["ek","er","eb","eg"],"range":["#000000","#ff0000","#0000ff","#008000"]},"legend":null}}},
  {"mark":{"type":"errorbar","ticks":{"size":3},"thickness":0.7,"opacity":0.55},"encoding":{"y":{"field":"g","type":"quantitative","scale":{"domain":[0,1],"nice":false},"axis":{"values":[0,0.05,0.1,0.15,0.2,0.25,0.3,0.35,0.4,0.45,0.5,0.55,0.6,0.65,0.7,0.75,0.8,0.85,0.9,0.95,1],"format":"~g","labelExpr":"round(datum.value*100) % 20 == 0 ? datum.label : ''","title":null}},"yError":{"field":"ge"},"color":{"datum":"eg","type":"nominal","scale":{"domain":["ek","er","eb","eg"],"range":["#000000","#ff0000","#0000ff","#008000"]},"legend":null}}},
  {"transform":[{"fold":["k","b","r","g"],"as":["s","v"]}],"mark":{"type":"line","strokeWidth":1.3},"encoding":{"y":{"field":"v","type":"quantitative","scale":{"domain":[0,1],"nice":false},"axis":{"values":[0,0.05,0.1,0.15,0.2,0.25,0.3,0.35,0.4,0.45,0.5,0.55,0.6,0.65,0.7,0.75,0.8,0.85,0.9,0.95,1],"format":"~g","labelExpr":"round(datum.value*100) % 20 == 0 ? datum.label : ''","title":null}},"stroke":{"field":"s","type":"nominal","scale":{"domain":["k","b","r","g"],"range":["#000000","#0000ff","#ff0000","#008000"]},"legend":{"orient":"none","legendX":144,"legendY":51,"columns":2,"columnPadding":7,"rowPadding":-1,"symbolType":"M-2,0H2","symbolSize":56,"symbolStrokeWidth":1.5,"symbolOpacity":1,"labelOffset":7,"labelExpr":"'σₛ = ' + (datum.label == 'k' ? '0.0' : datum.label == 'b' ? '0.2' : datum.label == 'r' ? '0.4' : '0.7')","title":null}}}}
 ]
}
]
}
